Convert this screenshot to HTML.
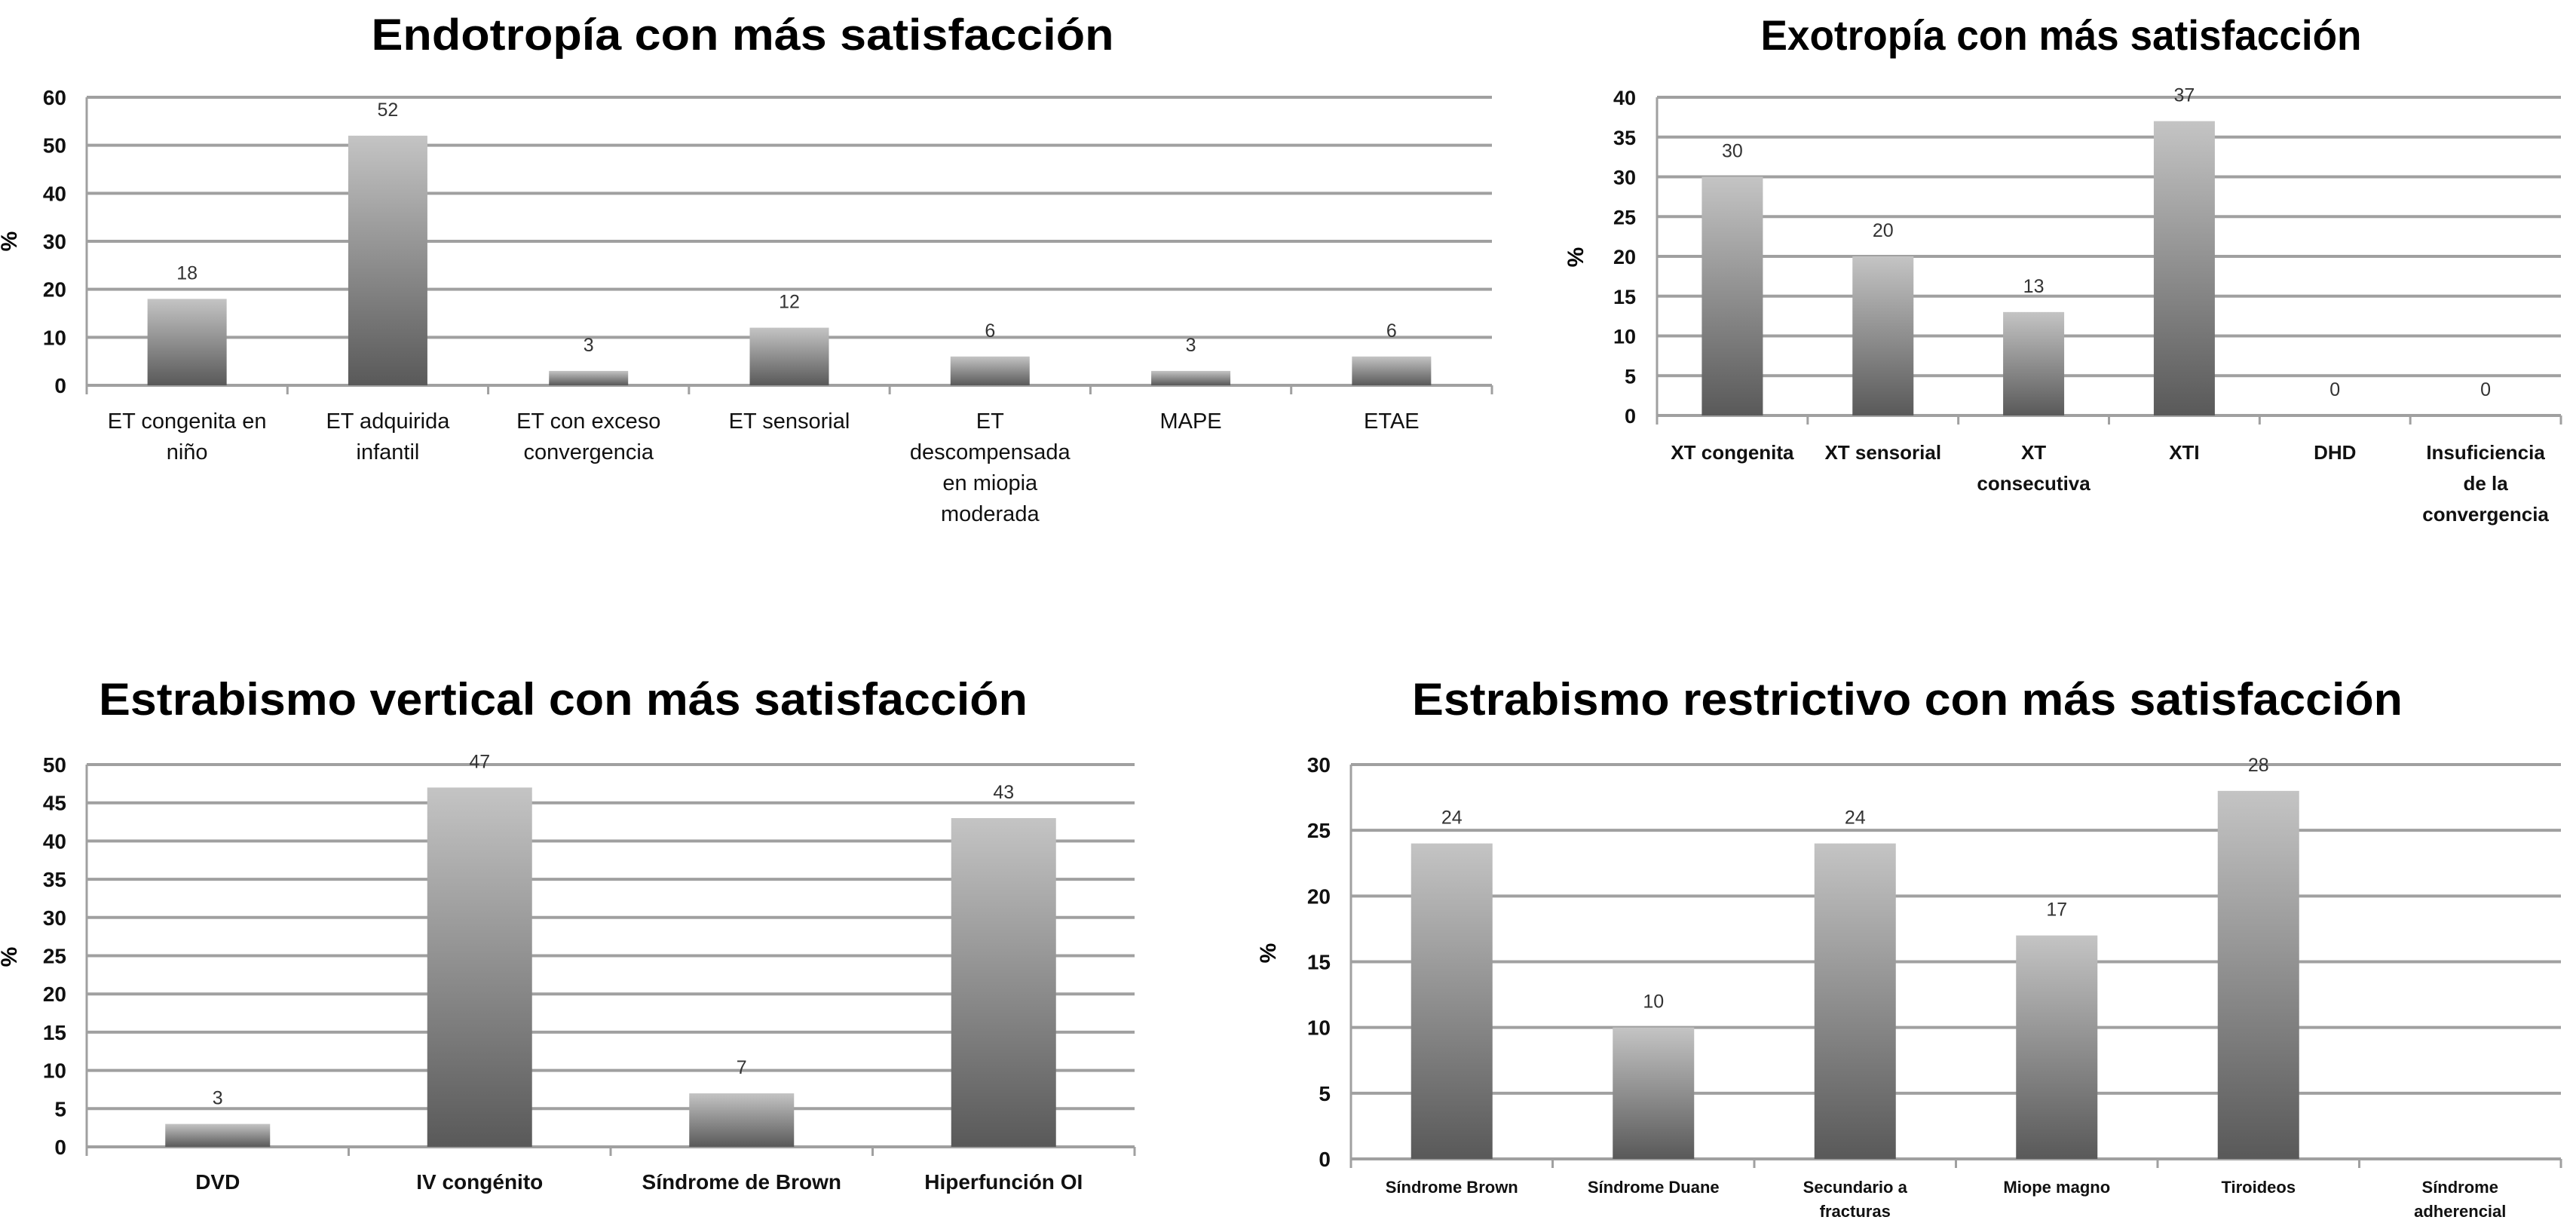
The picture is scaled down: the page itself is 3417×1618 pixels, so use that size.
<!DOCTYPE html>
<html><head><meta charset="utf-8"><style>
html,body{margin:0;padding:0;background:#fff;}
svg{display:block;font-family:"Liberation Sans",sans-serif;}
</style></head><body>
<svg id="root" width="3417" height="1618" viewBox="0 0 3417 1618" xmlns="http://www.w3.org/2000/svg">
<defs>
<linearGradient id="barGrad" x1="0" y1="0" x2="0" y2="1">
<stop offset="0" stop-color="#c4c4c4"/><stop offset="1" stop-color="#595959"/>
</linearGradient>
</defs>
<text x="985" y="66" text-anchor="middle" font-size="58" font-weight="bold" textLength="985" lengthAdjust="spacingAndGlyphs">Endotropía con más satisfacción</text>
<text x="2734" y="66" text-anchor="middle" font-size="56" font-weight="bold" textLength="797" lengthAdjust="spacingAndGlyphs">Exotropía con más satisfacción</text>
<text x="747" y="948" text-anchor="middle" font-size="60" font-weight="bold" textLength="1232" lengthAdjust="spacingAndGlyphs">Estrabismo vertical con más satisfacción</text>
<text x="2530" y="948" text-anchor="middle" font-size="60" font-weight="bold" textLength="1314" lengthAdjust="spacingAndGlyphs">Estrabismo restrictivo con más satisfacción</text>
</svg>
<script>
// Chart 1: Endotropía
const c1Categories = [["ET congenita en","niño"],["ET adquirida","infantil"],["ET con exceso","convergencia"],["ET sensorial"],["ET","descompensada","en miopia","moderada"],["MAPE"],["ETAE"]];
const c1Values = [18,52,3,12,6,3,6];
const c1Ticks = [0,10,20,30,40,50,60];
// Chart 2: Exotropía
const c2Categories = [["XT congenita"],["XT sensorial"],["XT","consecutiva"],["XTI"],["DHD"],["Insuficiencia","de la","convergencia"]];
const c2Values = [30,20,13,37,0,0];
const c2Ticks = [0,5,10,15,20,25,30,35,40];
// Chart 3: Vertical
const c3Categories = [["DVD"],["IV congénito"],["Síndrome de Brown"],["Hiperfunción OI"]];
const c3Values = [3,47,7,43];
const c3Ticks = [0,5,10,15,20,25,30,35,40,45,50];
// Chart 4: Restrictivo
const c4Categories = [["Síndrome Brown"],["Síndrome Duane"],["Secundario a","fracturas"],["Miope magno"],["Tiroideos"],["Síndrome","adherencial"]];
const c4Values = [24,10,24,17,28,null];
const c4Ticks = [0,5,10,15,20,25,30];

const NS = "http://www.w3.org/2000/svg";
const root = document.getElementById("root");
function mk(tag, attrs, parent) {
  const e = document.createElementNS(NS, tag);
  for (const k in attrs) e.setAttribute(k, attrs[k]);
  parent.appendChild(e);
  return e;
}
function drawChart(id, cats, vals, ticks, L) {
  const g = mk("g", {}, root);
  
  
  const maxT = ticks[ticks.length - 1];
  const yS = v => L.y0 - (v / maxT) * (L.y0 - L.yTop);
  const bw = (L.right - L.left) / cats.length;
  ticks.forEach(t => {
    const ln = mk("line", {x1: L.left, x2: L.right, y1: yS(t), y2: yS(t), stroke: "#a0a0a0", "stroke-width": 4}, g);
    
    
    const tl = mk("text", {x: L.tickX, y: yS(t) + 10, "text-anchor": "end", "font-size": L.tickFs, "font-weight": "bold", fill: "#111"}, g);
    
    
    tl.textContent = t;
  });
  const ax = mk("line", {x1: L.left, x2: L.left, y1: L.yTop, y2: L.y0 + 12, stroke: "#a0a0a0", "stroke-width": 3}, g);
  
  
  for (let i = 0; i <= cats.length; i++) {
    const tk = mk("line", {x1: L.left + i * bw, x2: L.left + i * bw, y1: L.y0, y2: L.y0 + 12, stroke: "#a0a0a0", "stroke-width": 3}, g);
    
    
  }
  const yl = mk("text", {x: L.pctX, y: L.pctY, "text-anchor": "middle", "font-size": 30, "font-weight": "bold", transform: "rotate(-90 " + L.pctX + " " + L.pctY + ")"}, g);
  
  
  yl.textContent = "%";
  cats.forEach((c, i) => {
    const cx = L.left + (i + 0.5) * bw;
    const v = vals[i];
    if (v !== null && v !== undefined) {
      const top = yS(v);
      if (v > 0) {
        const r = mk("rect", {x: cx - L.barW / 2, y: top, width: L.barW, height: L.y0 - top, fill: "url(#barGrad)"}, g);
        
        
      }
      const vl = mk("text", {x: cx, y: top - 26, "text-anchor": "middle", "font-size": 25, fill: "#333"}, g);
      
      
      vl.textContent = v;
    }
    c.forEach((line, j) => {
      const t = mk("text", {x: cx, y: L.labY + j * L.labLH, "text-anchor": "middle", "font-size": L.labFs, "font-weight": L.labW, fill: "#111"}, g);
      
      
      t.textContent = line;
    });
  });
}
drawChart("chart-endotropia", c1Categories, c1Values, c1Ticks,
  {left: 115, right: 1979, yTop: 129, y0: 511, barW: 105, tickX: 88, tickFs: 28, pctX: 22, pctY: 320, labY: 568, labLH: 41, labFs: 29, labW: "normal"});
drawChart("chart-exotropia", c2Categories, c2Values, c2Ticks,
  {left: 2198, right: 3397, yTop: 129, y0: 551, barW: 81, tickX: 2170, tickFs: 27, pctX: 2100, pctY: 341, labY: 609, labLH: 41, labFs: 26, labW: "bold"});
drawChart("chart-vertical", c3Categories, c3Values, c3Ticks,
  {left: 115, right: 1505, yTop: 1014, y0: 1521, barW: 139, tickX: 88, tickFs: 28, pctX: 22, pctY: 1269, labY: 1577, labLH: 40, labFs: 28, labW: "bold"});
drawChart("chart-restrictivo", c4Categories, c4Values, c4Ticks,
  {left: 1792, right: 3397, yTop: 1014, y0: 1537, barW: 108, tickX: 1765, tickFs: 28, pctX: 1692, pctY: 1264, labY: 1582, labLH: 32, labFs: 22, labW: "bold"});
</script>
</body></html>
